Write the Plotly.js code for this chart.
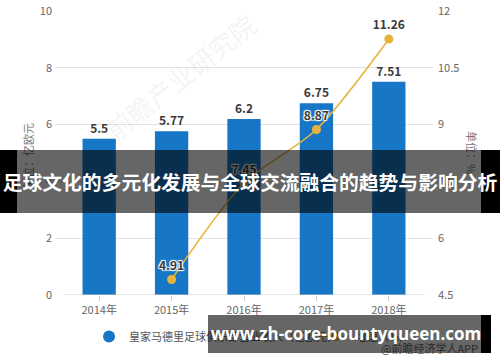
<!DOCTYPE html>
<html>
<head>
<meta charset="utf-8">
<script src="https://cdn.plot.ly/plotly-3.0.1.min.js"></script>
<style>
  html, body { margin: 0; padding: 0; background: #fff; }
  #wrap { position: relative; width: 500px; height: 362px; overflow: hidden; }
  #chart { position: absolute; left: 0; top: 0; width: 500px; height: 362px; }
  .blk { position: absolute; background: #000; }
  .gry { position: absolute; background: rgba(0,0,0,0.6); }
  .btxt { position: absolute; color: #fff; font-weight: bold; white-space: nowrap; text-align: center; }
</style>
</head>
<body>
<div id="wrap">
  <div id="chart"></div>
  <div class="blk" style="left:0;top:150px;width:17px;height:63px;"></div>
  <div class="gry" style="left:17px;top:150px;width:464px;height:63px;"></div>
  <div class="blk" style="left:481px;top:150px;width:19px;height:63px;"></div>
  <div class="btxt" style="left:-20px;top:150px;width:540px;height:63px;line-height:63px;font-family:'Noto Sans CJK SC',sans-serif;font-size:19.8px;">足球文化的多元化发展与全球交流融合的趋势与影响分析</div>
  <div class="gry" style="left:208px;top:315px;width:273px;height:38px;"></div>
  <div class="blk" style="left:481px;top:315px;width:10px;height:38px;"></div>
  <div class="btxt" style="left:208px;top:315px;width:276px;height:38px;line-height:38px;font-family:'Open Sans',sans-serif;font-size:17px;">www.zh-core-bountyqueen.com</div>
</div>
<script>
const categories = ['2014年', '2015年', '2016年', '2017年', '2018年'];
const revenue = [5.5, 5.77, 6.2, 6.75, 7.51];
const growth = [null, 4.91, 7.45, 8.87, 11.26];
const leftTicks = [0, 2, 4, 6, 8, 10];
const rightTicks = [4.5, 6, 7.5, 9, 10.5, 12];
const revenueName = '皇家马德里足球俱乐部营业收入（亿欧元）';
const growthName = '增速（%）';

const BLUE = '#1776c6';
const GOLD = '#e6b43c';
const FONT = "'Noto Sans CJK SC', 'Noto Sans', sans-serif";

const traces = [
  {
    type: 'bar', x: categories, y: revenue, name: revenueName,
    marker: { color: BLUE }, width: 0.46,
    text: revenue.map(v => String(v)), textposition: 'outside',
    textfont: { size: 12, color: '#3a3a3a', family: FONT, weight: 'bold' },
    cliponaxis: false, showlegend: false, hoverinfo: 'skip'
  },
  {
    type: 'scatter', x: [categories[0]], y: [null], name: revenueName,
    mode: 'markers', marker: { color: BLUE, size: 12, symbol: 'circle' },
    legend: 'legend', showlegend: true, hoverinfo: 'skip'
  },
  {
    type: 'scatter', x: categories, y: growth, yaxis: 'y2', name: growthName,
    mode: 'lines+markers+text', connectgaps: false,
    line: { color: GOLD, width: 1.6, shape: 'spline', smoothing: 0.8 },
    marker: { color: GOLD, size: 9 },
    text: growth.map(v => v == null ? '' : v.toFixed(2)),
    textposition: 'top center',
    textfont: { size: 12, color: '#3a3a3a', family: FONT, weight: 'bold',
      shadow: '1px 1px 1px #fff, -1px -1px 1px #fff, 1px -1px 1px #fff, -1px 1px 1px #fff' },
    cliponaxis: false, legend: 'legend2', hoverinfo: 'skip'
  }
];

const layout = {
  width: 500, height: 362,
  margin: { l: 55, r: 67, t: 11, b: 67 },
  paper_bgcolor: '#fff', plot_bgcolor: '#fff',
  font: { family: FONT, color: '#666', size: 11 },
  showlegend: true,
  xaxis: {
    type: 'category', range: [-0.61, 4.61], showline: false, showgrid: false,
    ticks: 'outside', ticklen: 5, tickcolor: '#cccccc', tickwidth: 1,
    tickfont: { size: 11, color: '#666', family: FONT }, fixedrange: true
  },
  yaxis: {
    range: [0, 10], tickvals: leftTicks, ticktext: leftTicks.map(String),
    showgrid: true, gridcolor: '#e3e3e3', gridwidth: 1, zeroline: false, showline: false,
    tickfont: { size: 11, color: '#666', family: FONT }, ticklabelstandoff: 2
  },
  yaxis2: {
    overlaying: 'y', side: 'right', range: [4.5, 12],
    tickvals: rightTicks, ticktext: rightTicks.map(String),
    showgrid: false, zeroline: false, showline: false,
    tickfont: { size: 11, color: '#666', family: FONT }, ticklabelstandoff: 4
  },
  legend: {
    orientation: 'h', x: 0.09, xanchor: 'left', y: -0.095, yanchor: 'top',
    font: { size: 11, color: '#555', family: FONT }, bgcolor: 'rgba(0,0,0,0)'
  },
  legend2: {
    orientation: 'h', x: 0.69, xanchor: 'left', y: -0.095, yanchor: 'top',
    font: { size: 11, color: '#555', family: FONT }, bgcolor: 'rgba(0,0,0,0)'
  },
  shapes: [
    { type: 'line', xref: 'x', yref: 'y', x0: -0.5, x1: 4.5, y0: 0, y1: 0,
      line: { color: '#cccccc', width: 1 }, layer: 'above' }
  ],
  annotations: [
    { text: '单位：亿欧元', xref: 'paper', yref: 'paper', x: -0.071, y: 0.49,
      xanchor: 'center', yanchor: 'middle',
      showarrow: false, textangle: -90, font: { size: 11, color: '#777', family: FONT } },
    { text: '单位：%', xref: 'paper', yref: 'paper', x: 1.103, y: 0.50,
      xanchor: 'center', yanchor: 'middle',
      showarrow: false, textangle: 90, font: { size: 11, color: '#777', family: FONT } },
    { text: '前瞻产业研究院', xref: 'paper', yref: 'paper', x: 0.33, y: 0.77,
      xanchor: 'center', yanchor: 'middle',
      showarrow: false, textangle: -38, font: { size: 26, color: 'rgba(170,170,170,0.14)', family: FONT } },
    { text: '@前瞻经济学人APP', xref: 'paper', yref: 'paper', x: 0.99, y: -0.187,
      xanchor: 'center', yanchor: 'middle',
      showarrow: false, font: { size: 11, color: '#666', family: FONT } }
  ]
};

Plotly.newPlot('chart', traces, layout, { staticPlot: true, displayModeBar: false });
</script>
</body>
</html>
